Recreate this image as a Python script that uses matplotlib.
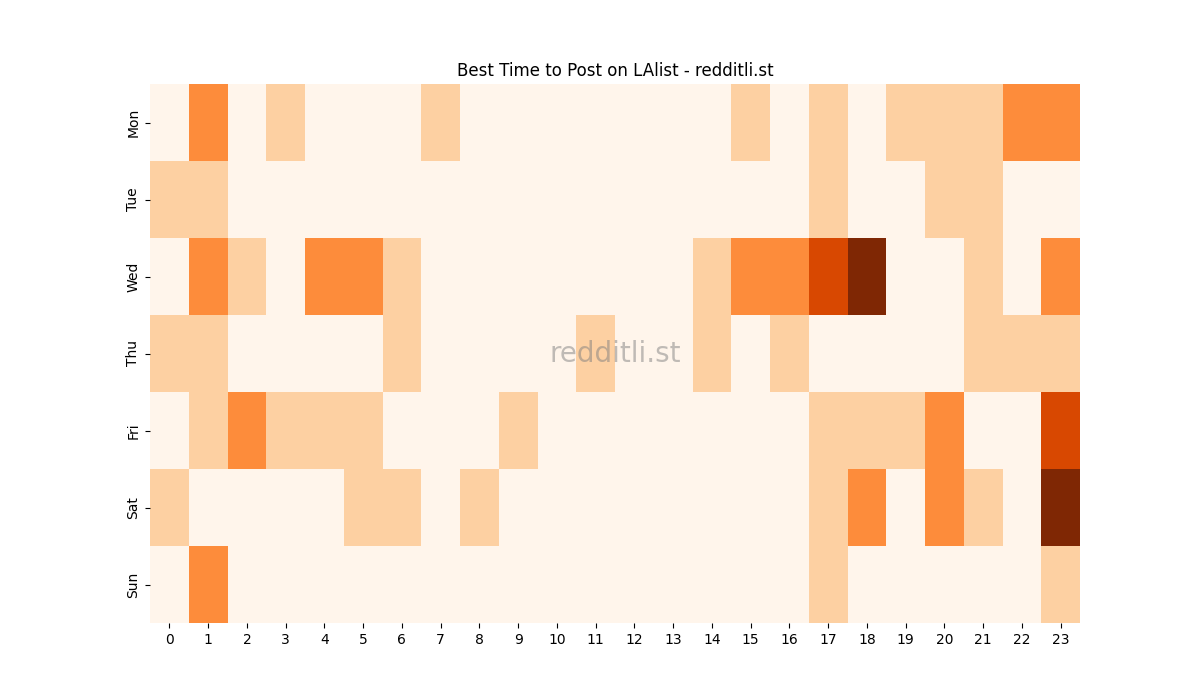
import matplotlib
matplotlib.use("Agg")
import matplotlib.pyplot as plt
import seaborn as sns
import numpy as np

days = ["Mon", "Tue", "Wed", "Thu", "Fri", "Sat", "Sun"]
hours = list(range(24))
mon = [0,2,0,1,0,0,0,1,0,0,0,0,0,0,0,1,0,1,0,1,1,1,2,2]
tue = [1,1,0,0,0,0,0,0,0,0,0,0,0,0,0,0,0,1,0,0,1,1,0,0]
wed = [0,2,1,0,2,2,1,0,0,0,0,0,0,0,1,2,2,3,4,0,0,1,0,2]
thu = [1,1,0,0,0,0,1,0,0,0,0,1,0,0,1,0,1,0,0,0,0,1,1,1]
fri = [0,1,2,1,1,1,0,0,0,1,0,0,0,0,0,0,0,1,1,1,2,0,0,3]
sat = [1,0,0,0,0,1,1,0,1,0,0,0,0,0,0,0,0,1,2,0,2,1,0,4]
sun = [0,2,0,0,0,0,0,0,0,0,0,0,0,0,0,0,0,1,0,0,0,0,0,1]

data = np.array([mon, tue, wed, thu, fri, sat, sun])

fig, ax = plt.subplots(figsize=(12, 7), dpi=100)
sns.heatmap(data, cmap="Oranges", vmin=0, vmax=4, cbar=False, ax=ax,
            xticklabels=hours, yticklabels=days)
ax.set_title("Best Time to Post on LAlist - redditli.st", fontsize=12)
ax.text(0.5, 0.5, "redditli.st", transform=ax.transAxes, ha="center", va="center",
        fontsize=20, color="gray", alpha=0.5)
plt.setp(ax.get_yticklabels(), rotation=90, va="center")
plt.setp(ax.get_xticklabels(), rotation=0)
fig.savefig("out.png")
